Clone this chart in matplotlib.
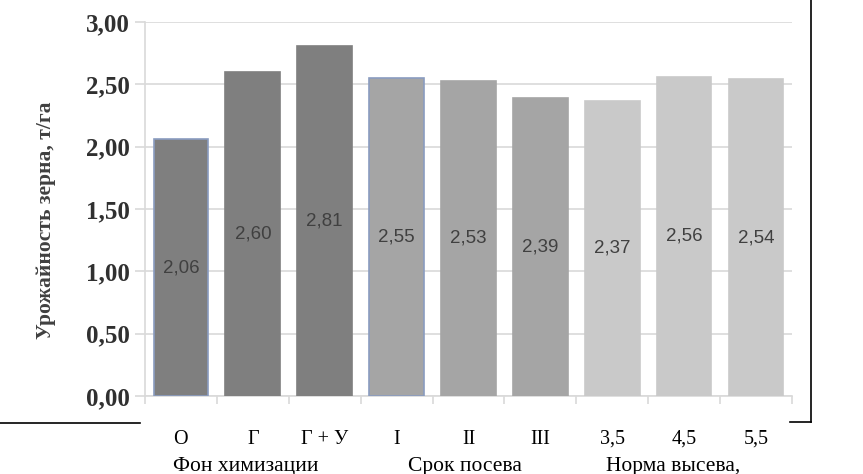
import matplotlib
matplotlib.use("Agg")
import matplotlib.pyplot as plt
from matplotlib.lines import Line2D

categories = ["О", "Г", "Г + У", "I", "II", "III", "3,5", "4,5", "5,5"]
values = [2.06, 2.60, 2.81, 2.55, 2.53, 2.39, 2.37, 2.56, 2.54]
value_labels = ["2,06", "2,60", "2,81", "2,55", "2,53", "2,39", "2,37", "2,56", "2,54"]
groups = ["Фон химизации", "Срок посева", "Норма высева,"]
group_pos = [0.9, 3.95, 6.85]
yticks = [0.0, 0.5, 1.0, 1.5, 2.0, 2.5, 3.0]
ytick_labels = ["0,00", "0,50", "1,00", "1,50", "2,00", "2,50", "3,00"]
ylabel = "Урожайность зерна, т/га"

colors = ["#7f7f7f"] * 3 + ["#a5a5a5"] * 3 + ["#c9c9c9"] * 3
edges = ["#8a9cc0", "#7f7f7f", "#7f7f7f", "#8a9cc0", "#a5a5a5", "#a5a5a5",
         "#c9c9c9", "#c9c9c9", "#c9c9c9"]

fig = plt.figure(figsize=(8.63, 4.74), dpi=100)
ax = fig.add_axes([0.168, 0.1646, 0.7497, 0.789])

x = list(range(len(categories)))
bars = ax.bar(x, values, width=0.76, color=colors, edgecolor=edges, linewidth=1.2, zorder=3)
for xi, v, lab in zip(x, values, value_labels):
    ax.text(xi, v / 2, lab, ha="center", va="center", fontsize=13.5,
            family="Liberation Sans", color="#404040", zorder=4)

ax.set_xlim(-0.5, 8.5)
ax.set_ylim(0, 3.0)
ax.set_yticks(yticks)
ax.set_yticklabels(ytick_labels, family="Liberation Serif", fontweight="bold",
                   fontsize=18, color="#303030")
ax.yaxis.grid(True, color="#d9d9d9", linewidth=1.2, zorder=0)
ax.tick_params(axis="y", length=7, color="#d9d9d9", width=1.2, pad=4)

ax.set_xticks([i + 0.5 for i in range(-1, 9)], minor=False)
ax.set_xticklabels([])
ax.tick_params(axis="x", length=6, color="#d9d9d9", width=1.2)
for xi, c in zip(x, categories):
    ax.text(xi, -0.09, c, transform=ax.get_xaxis_transform(), ha="center", va="top",
            family="Liberation Serif", fontsize=14.5, color="black")
for gp, g in zip(group_pos, groups):
    ax.text(gp, -0.162, g, transform=ax.get_xaxis_transform(), ha="center", va="top",
            family="Liberation Serif", fontsize=15.5, color="black")

for side in ["top", "right"]:
    ax.spines[side].set_visible(False)
for side in ["left", "bottom"]:
    ax.spines[side].set_color("#d9d9d9")
    ax.spines[side].set_linewidth(1.2)

ax.set_ylabel(ylabel, family="Liberation Serif", fontweight="bold", fontsize=15.5,
              color="#404040")
ax.yaxis.set_label_coords(-0.138, 0.47)

# decorative frame lines
fig.add_artist(Line2D([0, 140 / 863], [1 - 423 / 474] * 2, color="black", linewidth=1.2))
fig.add_artist(Line2D([811 / 863] * 2, [1, 1 - 422 / 474], color="black", linewidth=1.2))
fig.add_artist(Line2D([790 / 863, 811 / 863], [1 - 422 / 474] * 2, color="black", linewidth=1.2))

fig.savefig("out.png", dpi=100)
